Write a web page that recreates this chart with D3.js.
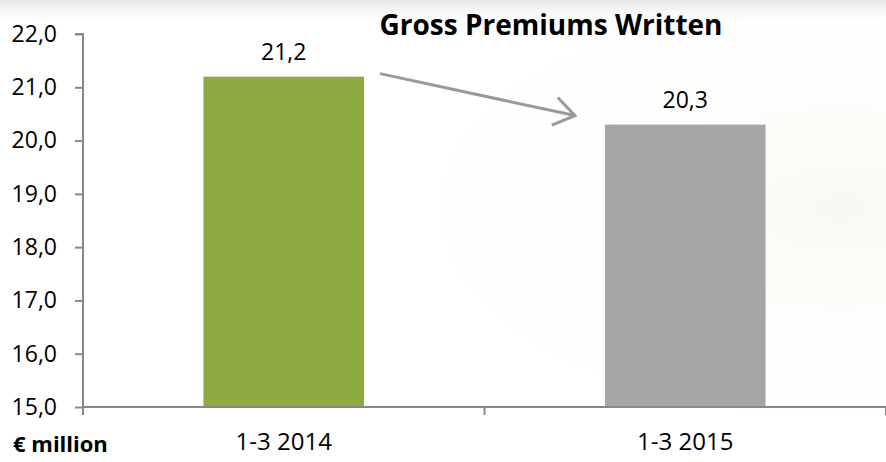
<!DOCTYPE html>
<html>
<head>
<meta charset="utf-8">
<script src="https://cdn.jsdelivr.net/npm/d3@7"></script>
<style>
  html, body { margin: 0; padding: 0; background: #fff; }
  svg { display: block; }
  text { font-family: "Open Sans", "Noto Sans", sans-serif; fill: #000; }
</style>
</head>
<body>
<svg id="chart" width="886" height="462"></svg>
<script>
const categories = ["1-3 2014", "1-3 2015"];
const values = [21.2, 20.3];
const barColors = ["#8FAA40", "#A6A6A6"];
const valueLabels = ["21,2", "20,3"];
const yTicks = [15, 16, 17, 18, 19, 20, 21, 22];
const title = "Gross Premiums Written";
const unitLabel = "€ million";

const W = 886, H = 462;
const svg = d3.select("#chart");

// background
const defs = svg.append("defs");
const lg = defs.append("linearGradient").attr("id", "topfade").attr("x1", 0).attr("y1", 0).attr("x2", 0).attr("y2", 1);
lg.append("stop").attr("offset", "0").attr("stop-color", "#e8e8e8");
lg.append("stop").attr("offset", "1").attr("stop-color", "#ffffff").attr("stop-opacity", 0);
const rg = defs.append("radialGradient").attr("id", "tint").attr("cx", 0.95).attr("cy", 0.45).attr("r", 0.55);
rg.append("stop").attr("offset", "0").attr("stop-color", "#f8f8f2");
rg.append("stop").attr("offset", "1").attr("stop-color", "#ffffff").attr("stop-opacity", 0);
svg.append("rect").attr("width", W).attr("height", H).attr("fill", "#fff");
svg.append("rect").attr("width", W).attr("height", H).attr("fill", "url(#tint)");
svg.append("rect").attr("width", W).attr("height", 28).attr("fill", "url(#topfade)");

const x0 = 83, x1 = 886, yTop = 34, yBot = 407;
const x = d3.scaleBand().domain(categories).range([x0, x1]).paddingInner(0.6).paddingOuter(0.3);
const y = d3.scaleLinear().domain([15, 22]).range([yBot, yTop]);

// bars
svg.selectAll("rect.bar").data(categories).join("rect")
  .attr("class", "bar")
  .attr("x", d => x(d))
  .attr("width", x.bandwidth())
  .attr("y", (d, i) => y(values[i]))
  .attr("height", (d, i) => y(15) - y(values[i]))
  .attr("fill", (d, i) => barColors[i]);

// y axis
const yAxis = svg.append("g").attr("transform", `translate(${x0},0)`)
  .call(d3.axisLeft(y).tickValues(yTicks).tickSize(8).tickPadding(18)
    .tickFormat(d => d3.format(".1f")(d).replace(".", ",")));
yAxis.select(".domain").attr("stroke", "#888").attr("stroke-width", 2).attr("d", `M-8,${yTop}H0V${yBot}`);
yAxis.selectAll(".tick line").attr("stroke", "#888").attr("stroke-width", 2);
yAxis.selectAll(".tick text").attr("font-size", 23).attr("fill", "#000").attr("font-family", "Open Sans");

// x axis
const xAxisG = svg.append("g").attr("transform", `translate(0,${yBot})`);
xAxisG.append("line").attr("x1", x0).attr("x2", x1).attr("stroke", "#888").attr("stroke-width", 2);
const bounds = [x0, (x0 + x1) / 2, x1];
xAxisG.selectAll("line.tk").data(bounds).join("line").attr("class", "tk")
  .attr("x1", d => d).attr("x2", d => d).attr("y1", 0).attr("y2", 8)
  .attr("stroke", "#888").attr("stroke-width", 2);
xAxisG.selectAll("text.cat").data(categories).join("text").attr("class", "cat")
  .attr("x", d => x(d) + x.bandwidth() / 2)
  .attr("y", 43)
  .attr("text-anchor", "middle")
  .attr("font-size", 24)
  .text(d => d);

// value labels
svg.selectAll("text.val").data(categories).join("text").attr("class", "val")
  .attr("x", d => x(d) + x.bandwidth() / 2)
  .attr("y", (d, i) => y(values[i]) - 17)
  .attr("text-anchor", "middle")
  .attr("font-size", 23)
  .text((d, i) => valueLabels[i]);

// title
svg.append("text").attr("x", 551).attr("y", 35).attr("text-anchor", "middle")
  .attr("font-size", 28).attr("font-weight", "bold").text(title);

// unit label
svg.append("text").attr("x", 13).attr("y", 452).attr("font-size", 22).attr("font-weight", "bold").text(unitLabel);

// arrow
const ax1 = x(categories[0]) + x.bandwidth() + 16, ay1 = y(values[0]) - 3;
const ax2 = x(categories[1]) - 30, ay2 = y(values[1]) - 9;
svg.append("line").attr("x1", ax1).attr("y1", ay1).attr("x2", ax2).attr("y2", ay2)
  .attr("stroke", "#999").attr("stroke-width", 3);
const ang = Math.atan2(ay2 - ay1, ax2 - ax1);
const len = 25, spread = 0.6;
const p1 = [ax2 - len * Math.cos(ang - spread), ay2 - len * Math.sin(ang - spread)];
const p2 = [ax2 - len * Math.cos(ang + spread), ay2 - len * Math.sin(ang + spread)];
svg.append("path").attr("d", `M${p1[0]},${p1[1]}L${ax2},${ay2}L${p2[0]},${p2[1]}`)
  .attr("fill", "none").attr("stroke", "#999").attr("stroke-width", 3).attr("stroke-linejoin", "miter");
</script>
</body>
</html>
